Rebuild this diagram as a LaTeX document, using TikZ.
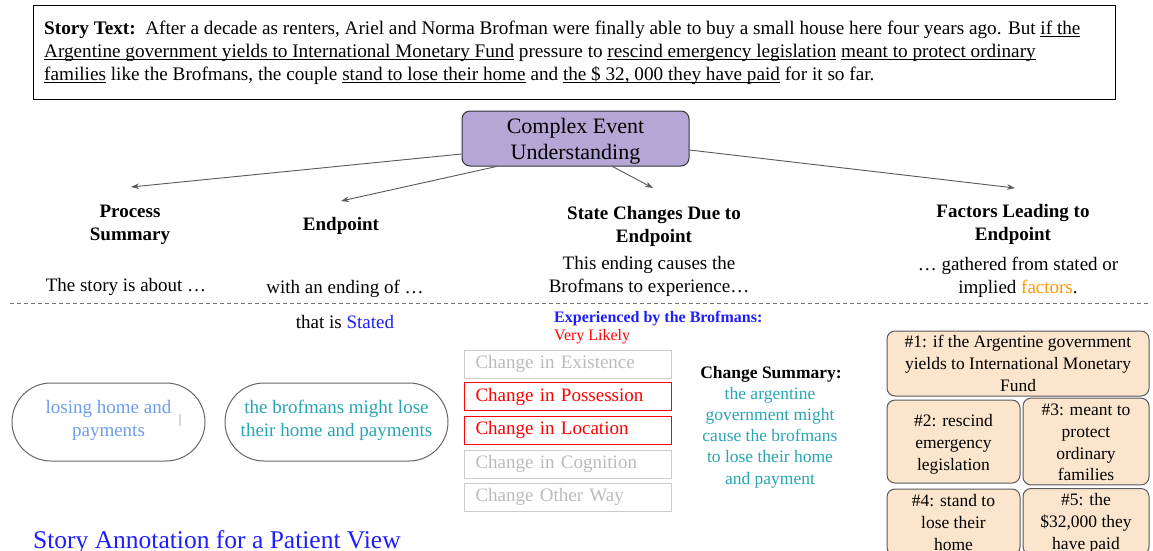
\documentclass[tikz,border=0pt]{standalone}
\usepackage{fontspec}
\setmainfont{Liberation Serif}
\usetikzlibrary{arrows.meta}
\definecolor{ceufill}{HTML}{B4A7D6}
\definecolor{peach}{HTML}{FCE5CD}
\definecolor{tealtx}{RGB}{40,165,180}
\definecolor{lbluetx}{HTML}{6D9EEB}
\definecolor{bluetx}{RGB}{30,30,255}
\definecolor{orangetx}{HTML}{FF9900}
\definecolor{lgray}{HTML}{BBBBBB}
\definecolor{lgrayline}{HTML}{CCCCCC}
\definecolor{arrgray}{HTML}{595959}
\definecolor{redtx}{RGB}{255,0,0}
\newcommand\fsz[2]{\fontsize{#1}{#2}\selectfont}
\newcommand\uln[1]{\setbox0\hbox{#1}\rlap{\rule[-3pt]{\wd0}{0.9pt}}\box0\relax}
\newcommand\shiftlines[2]{\raisebox{#1}[\height][\depth]{\begin{tabular}{@{}c@{}}#2\end{tabular}}}
\begin{document}
\begin{tikzpicture}[x=1pt,y=-1pt,
  arr/.style={draw=arrgray, line width=0.9pt, -{Stealth[length=8pt,width=5.5pt]}},
  head/.style={font=\fsz{19}{23}\bfseries, align=center, inner sep=0pt},
  sub/.style={font=\fsz{19}{23}, align=center, inner sep=0pt},
  storyline/.style={font=\fsz{19.2}{23}, anchor=base west, inner sep=0pt},
  sbox/.style={draw=lgrayline, line width=1pt, text=lgray, font=\fsz{19}{23}, text width=185pt, inner xsep=11pt, inner ysep=0pt, align=left, minimum height=28pt},
  sboxon/.style={sbox, draw=redtx, text=redtx},
  oval/.style={draw=black!60, line width=1pt, rounded corners=39pt, minimum height=78pt, inner sep=0pt, align=center, font=\fsz{19}{23}},
  fbox/.style={draw=black!65, fill=peach, line width=1pt, rounded corners=8pt, inner sep=0pt, align=center, font=\fsz{17.5}{21.7}}
]
\useasboundingbox (0,0) rectangle (1153,550);
\clip (0,0) rectangle (1153,550);
\fill[white] (0,0) rectangle (1153,550);

% story text box
\node[draw=black, line width=1.3pt, minimum width=1082pt, minimum height=94pt, inner sep=0pt, anchor=north west] (storybox) at (33,5) {};
\node[storyline] (s1) at (44,34) {\textbf{Story Text:}\ \ After a decade as renters, Ariel and Norma Brofman were finally able to buy a small house here four years ago. But \uln{if the}};
\node[storyline] (s2) at (44,57) {\uln{Argentine government yields to International Monetary Fund} pressure to \uln{rescind emergency legislation} \uln{meant to protect ordinary}};
\node[storyline] (s3) at (44,80) {\uln{families} like the Brofmans, the couple \uln{stand to lose their home} and \uln{the \$ 32, 000 they have paid} for it so far.};

% central node
\node[draw=black!80, fill=ceufill, line width=1pt, rounded corners=8pt, minimum width=227pt, minimum height=55pt, inner sep=0pt, align=center, font=\fsz{22}{26}] (ceu) at (575.5,138.5) {\shiftlines{-3pt}{Complex Event\\Understanding}};

% headings
\node[head] (ps) at (130,224.5) {Process\\Summary};
\node[head] (ep) at (341,226) {Endpoint};
\node[head] (sc) at (654,226) {State Changes Due to\\Endpoint};
\node[head] (fl) at (1013,224.5) {Factors Leading to\\Endpoint};

\coordinate (t1) at (131,187);
\coordinate (t2) at (341,201);
\coordinate (t3) at (653,188);
\coordinate (t4) at (1015,188);
\draw[arr] ([yshift=-15.5pt]ceu.west) -- (t1);
\draw[arr] ([xshift=35pt]ceu.south west) -- (t2);
\draw[arr] ([xshift=151pt]ceu.south west) -- (t3);
\draw[arr] ([yshift=-11.5pt]ceu.east) -- (t4);

% sub texts
\node[sub] (pst) at (126,287) {The story is about …};
\node[sub] (ept) at (345,289) {with an ending of …};
\node[sub] (sct) at (649,276.5) {This ending causes the\\Brofmans to experience…};
\node[sub] (flt) at (1018,277.5) {… gathered from stated or\\implied \textcolor{orangetx}{factors}.};

% dashed separator
\draw[black!55, line width=1pt, dash pattern=on 4pt off 3pt] (10,303) -- (1150,303);

\node[sub] (stated) at (345,322) {that is \textcolor{bluetx}{Stated}};

% state change area
\node[font=\fsz{16}{18}\bfseries, text=bluetx, anchor=west, inner sep=0pt] (exp) at (554,319) {Experienced by the Brofmans:};
\node[font=\fsz{16}{18}, text=redtx, anchor=west, inner sep=0pt] (vl) at (554,337) {Very Likely};
\node[sbox] (b1) at (568,364) {Change in Existence};
\node[sboxon] (b2) at (568,396.5) {Change in Possession};
\node[sboxon] (b3) at (568,430) {Change in Location};
\node[sbox] (b4) at (568,464) {Change in Cognition};
\node[sbox] (b5) at (568,497) {Change Other Way};

\node[font=\fsz{17.5}{21.3}\bfseries, inner sep=0pt] (cs) at (771,374) {Change Summary:};
\node[font=\fsz{17.5}{21.3}, text=tealtx, align=center, inner sep=0pt] (cst) at (770,437.5) {the argentine\\government might\\cause the brofmans\\to lose their home\\and payment};

% ovals
\node[oval, minimum width=193pt, text=lbluetx] (o1) at (108.5,422) {\shiftlines{2pt}{losing home and\\payments}};
\draw[black!15, line width=1.2pt] (180,414) -- (180,426);
\node[oval, minimum width=223pt, text=tealtx] (o2) at (336.5,422) {\shiftlines{2pt}{the brofmans might lose\\their home and payments}};

\node[font=\fsz{25.5}{28}, text=bluetx, anchor=base west, inner sep=0pt] (title) at (33,548) {Story Annotation for a Patient View};

% factor boxes
\node[fbox, minimum width=262pt, minimum height=65pt] (f1) at (1018,363.5) {\#1: if the Argentine government\\yields to International Monetary\\Fund};
\node[fbox, minimum width=133pt, minimum height=83pt] (f2) at (953.5,441.5) {\shiftlines{-2.5pt}{\#2: rescind\\emergency\\legislation}};
\node[fbox, minimum width=126pt, minimum height=83pt] (f3) at (1086,441.5) {\shiftlines{-2.5pt}{\#3: meant to\\protect\\ordinary\\families}};
\node[fbox, minimum width=133pt, minimum height=66pt] (f4) at (953.5,522) {\shiftlines{-2pt}{\#4: stand to\\lose their\\home}};
\node[fbox, minimum width=126pt, minimum height=66pt] (f5) at (1086,521.5) {\shiftlines{-1.5pt}{\#5: the\\\$32,000 they\\have paid}};
\end{tikzpicture}
\end{document}
